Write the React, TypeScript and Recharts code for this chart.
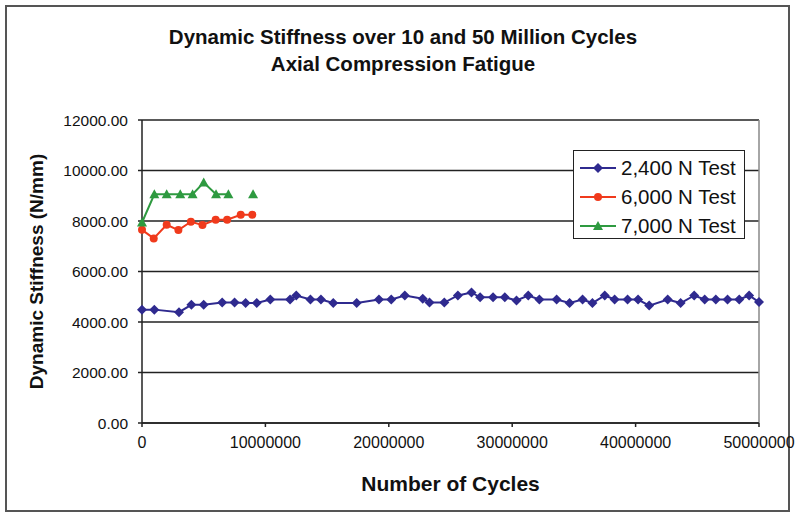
import React from 'react';
import { LineChart, Line, XAxis, YAxis, CartesianGrid, Legend, ReferenceLine, Label } from 'recharts';

// cycles (x) and dynamic stiffness (N/mm) per test
const blueCycles = [
  0, 1000000, 3000000, 4000000, 5000000, 6500000, 7500000, 8400000, 9300000, 10400000,
  12000000, 12500000, 13650000, 14500000, 15500000, 17400000, 19200000, 20200000, 21300000, 22750000,
  23300000, 24500000, 25600000, 26700000, 27400000, 28450000, 29400000, 30350000, 31300000, 32200000,
  33600000, 34650000, 35700000, 36500000, 37500000, 38300000, 39350000, 40200000, 41100000, 42600000,
  43650000, 44750000, 45600000, 46500000, 47450000, 48400000, 49200000, 50000000,
];
const blueStiffness = [
  4490, 4490, 4390, 4680, 4680, 4770, 4770, 4750, 4750, 4890,
  4890, 5050, 4890, 4890, 4750, 4750, 4890, 4890, 5050, 4920,
  4770, 4770, 5050, 5170, 4980, 4980, 4980, 4850, 5050, 4890,
  4890, 4750, 4890, 4750, 5050, 4890, 4890, 4890, 4650, 4890,
  4750, 5050, 4890, 4890, 4890, 4890, 5050, 4790,
];

const redCycles = [0, 950000, 2000000, 2950000, 3960000, 4900000, 5970000, 6900000, 8000000, 8940000];
const redStiffness = [7650, 7310, 7850, 7640, 7970, 7840, 8050, 8050, 8245, 8245];

const greenCycles = [0, 1000000, 2000000, 3100000, 4100000, 5000000, 6000000, 7000000, 8000000, 9000000];
const greenStiffness = [7940, 9060, 9060, 9060, 9060, 9520, 9060, 9060, null, 9060];

const xTicks = [0, 10000000, 20000000, 30000000, 40000000, 50000000];
const yTicks = [0, 2000, 4000, 6000, 8000, 10000, 12000];

const seriesNames = ['2,400 N Test', '6,000 N Test', '7,000 N Test'];

const BLUE = '#2f2a8f';
const RED = '#f03a1c';
const GREEN = '#2e9a40';

const zip = (xs: number[], ys: (number | null)[]) => xs.map((x, i) => ({ x, y: ys[i] }));

const blueData = zip(blueCycles, blueStiffness);
const redData = zip(redCycles, redStiffness);
const greenData = zip(greenCycles, greenStiffness);

const font = 'Arial, "Liberation Sans", sans-serif';

const Diamond = ({ cx, cy, color }: any) => (
  <path d={`M${cx},${cy - 5}L${cx + 5},${cy}L${cx},${cy + 5}L${cx - 5},${cy}Z`} fill={color} />
);
const Circle = ({ cx, cy, color }: any) => <circle cx={cx} cy={cy} r={4} fill={color} />;
const Triangle = ({ cx, cy, color }: any) => (
  <path d={`M${cx},${cy - 5}L${cx + 5},${cy + 4}L${cx - 5},${cy + 4}Z`} fill={color} />
);

const makeDot = (Shape: any, color: string) => (props: any) => {
  if (props.cx == null || props.cy == null || props.value == null) return <g key={props.index} />;
  return <Shape key={props.index} cx={props.cx} cy={props.cy} color={color} />;
};

const legendItems = [
  { name: seriesNames[0], color: BLUE, Shape: Diamond },
  { name: seriesNames[1], color: RED, Shape: Circle },
  { name: seriesNames[2], color: GREEN, Shape: Triangle },
];

const LegendBox = () => (
  <div
    style={{
      width: 172,
      height: 89,
      border: '1.5px solid #222',
      background: '#fff',
      boxSizing: 'border-box',
      padding: '2px 0 0 6px',
      fontFamily: font,
      fontSize: 20.5,
      color: '#111',
    }}
  >
    {legendItems.map((it) => (
      <div key={it.name} style={{ display: 'flex', alignItems: 'center', height: 29 }}>
        <svg width={36} height={14} style={{ marginRight: 5 }}>
          <line x1={0} y1={7} x2={36} y2={7} stroke={it.color} strokeWidth={2} />
          <it.Shape cx={18} cy={7} color={it.color} />
        </svg>
        <span>{it.name}</span>
      </div>
    ))}
  </div>
);

export default function App() {
  return (
    <div style={{ position: 'absolute', left: 0, top: 0, width: 796, height: 516, background: '#fff' }}>
      <div
        style={{
          position: 'absolute',
          left: 5,
          top: 5,
          width: 785,
          height: 507,
          border: '2px solid #555',
          boxSizing: 'border-box',
        }}
      />
      <div
        style={{
          position: 'absolute',
          left: 0,
          top: 23,
          width: 806,
          textAlign: 'center',
          fontFamily: font,
          fontWeight: 'bold',
          fontSize: 20.5,
          lineHeight: '27px',
          color: '#111',
        }}
      >
        <div>Dynamic Stiffness over 10 and 50 Million Cycles</div>
        <div>Axial Compression Fatigue</div>
      </div>
      <div style={{ position: 'absolute', left: 0, top: 0 }}>
        <LineChart width={796} height={516} margin={{ top: 120, right: 37, bottom: 63, left: 62 }}>
          <CartesianGrid horizontal vertical={false} stroke="#222" strokeWidth={1.5} />
          <ReferenceLine x={50000000} stroke="#888" strokeWidth={1.5} />
          <XAxis
            type="number"
            dataKey="x"
            domain={[0, 50000000]}
            ticks={xTicks}
            tickFormatter={(v: number) => String(v)}
            height={30}
            stroke="#222"
            strokeWidth={1.5}
            tickSize={4}
            tickMargin={10}
            tick={{ fontFamily: font, fontSize: 16, fill: '#111' }}
            allowDuplicatedCategory={false}
          >
            <Label
              value="Number of Cycles"
              position="insideBottom"
              offset={-38}
              style={{ fontFamily: font, fontSize: 21, fontWeight: 'bold', fill: '#111' }}
            />
          </XAxis>
          <YAxis
            type="number"
            domain={[0, 12000]}
            ticks={yTicks}
            tickFormatter={(v: number) => v.toFixed(2)}
            width={80}
            stroke="#222"
            strokeWidth={1.5}
            tickSize={4}
            tickMargin={10}
            tick={{ fontFamily: font, fontSize: 15.5, fill: '#111' }}
          >
            <Label
              value="Dynamic Stiffness (N/mm)"
              angle={-90}
              position="insideLeft"
              offset={-26}
              style={{ fontFamily: font, fontSize: 19, fontWeight: 'bold', fill: '#111', textAnchor: 'middle' }}
            />
          </YAxis>
          <Legend
            layout="vertical"
            align="center"
            verticalAlign="middle"
            content={() => <LegendBox />}
            wrapperStyle={{ left: 573, top: 150, width: 172, height: 89 }}
          />
          <Line
            data={blueData}
            dataKey="y"
            name={seriesNames[0]}
            stroke={BLUE}
            strokeWidth={2}
            dot={makeDot(Diamond, BLUE)}
            isAnimationActive={false}
          />
          <Line
            data={redData}
            dataKey="y"
            name={seriesNames[1]}
            stroke={RED}
            strokeWidth={2}
            dot={makeDot(Circle, RED)}
            isAnimationActive={false}
          />
          <Line
            data={greenData}
            dataKey="y"
            name={seriesNames[2]}
            stroke={GREEN}
            strokeWidth={2}
            dot={makeDot(Triangle, GREEN)}
            isAnimationActive={false}
          />
        </LineChart>
      </div>
    </div>
  );
}
